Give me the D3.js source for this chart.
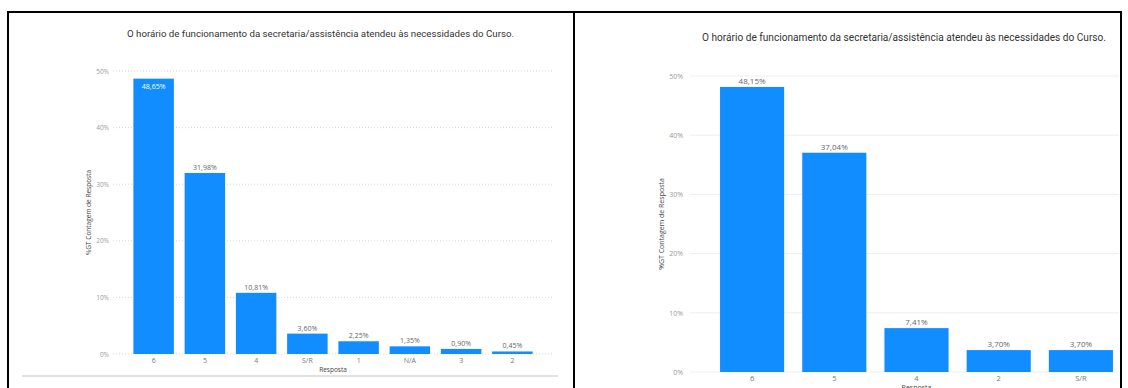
<!DOCTYPE html>
<html>
<head>
<meta charset="utf-8">
<script src="https://cdn.jsdelivr.net/npm/d3@7/dist/d3.min.js"></script>
<style>
  html, body { margin: 0; padding: 0; background: #fff; }
  svg { display: block; }
</style>
</head>
<body>
<svg id="chart" width="1128" height="388"></svg>
<script>
// Survey question shown in both panels
const chartTitle = "O horário de funcionamento da secretaria/assistência atendeu às necessidades do Curso.";
const yAxisTitle = "%GT Contagem de Resposta";
const xAxisTitle = "Resposta";

// Left panel: answer categories and share of responses (%)
const leftCategories = ["6", "5", "4", "S/R", "1", "N/A", "3", "2"];
const leftValues = [48.65, 31.98, 10.81, 3.60, 2.25, 1.35, 0.90, 0.45];

// Right panel: answer categories and share of responses (%)
const rightCategories = ["6", "5", "4", "2", "S/R"];
const rightValues = [48.15, 37.04, 7.41, 3.70, 3.70];

// Y-axis ticks (%)
const yTicks = [0, 10, 20, 30, 40, 50];

const ptBR = d3.formatLocale({ decimal: ",", thousands: ".", grouping: [3], currency: ["R$", ""] });
const fmtPct = v => ptBR.format(".2f")(v) + "%";
const fmtTick = v => v + "%";

const svg = d3.select("#chart");
const BAR = "#118DFF";

function drawPanel(cfg) {
  const g = svg.append("g");
  const x = d3.scaleBand().domain(cfg.categories).range(cfg.xRange)
    .paddingInner(cfg.padInner).paddingOuter(cfg.padInner / 2);
  const y = d3.scaleLinear().domain([0, 50]).range(cfg.yRange);

  // Title
  g.append("text")
    .attr("x", cfg.titleX).attr("y", cfg.titleY)
    .attr("text-anchor", "middle").attr("dominant-baseline", "middle")
    .attr("textLength", cfg.titleLen).attr("lengthAdjust", "spacingAndGlyphs")
    .style("font-family", "Roboto, 'DejaVu Sans', sans-serif")
    .style("font-size", cfg.titleSize + "px").style("fill", "#333")
    .text(chartTitle);

  // Gridlines
  g.append("g").selectAll("line").data(yTicks).join("line")
    .attr("x1", cfg.gridX[0]).attr("x2", cfg.gridX[1])
    .attr("y1", d => y(d)).attr("y2", d => y(d))
    .attr("stroke", cfg.gridColor).attr("stroke-width", 1)
    .attr("stroke-dasharray", cfg.gridDash);

  // Y-axis tick labels
  const yAxis = d3.axisLeft(y).tickValues(yTicks).tickFormat(fmtTick).tickSize(0).tickPadding(0);
  const ya = g.append("g").attr("transform", `translate(${cfg.tickX},0)`).call(yAxis);
  ya.select(".domain").remove();
  ya.selectAll("text")
    .style("font-family", "'Open Sans', sans-serif")
    .style("font-size", cfg.tickSize + "px").style("fill", "#9a9a9a");

  // Bars
  g.append("g").selectAll("rect").data(cfg.categories).join("rect")
    .attr("x", d => x(d)).attr("width", x.bandwidth())
    .attr("y", (d, i) => y(cfg.values[i]))
    .attr("height", (d, i) => y(0) - y(cfg.values[i]))
    .attr("fill", BAR);

  // Data labels
  g.append("g").selectAll("text").data(cfg.categories).join("text")
    .attr("x", d => x(d) + x.bandwidth() / 2)
    .attr("y", (d, i) => {
      const top = y(cfg.values[i]);
      return cfg.inside(i) ? top + cfg.labelSize + 3 : top - 3;
    })
    .attr("text-anchor", "middle")
    .style("font-family", "'Open Sans', sans-serif")
    .style("font-size", cfg.labelSize + "px")
    .style("fill", (d, i) => cfg.inside(i) ? "#fff" : "#666")
    .text((d, i) => fmtPct(cfg.values[i]));

  // X-axis category labels
  const xAxis = d3.axisBottom(x).tickSize(0).tickPadding(0);
  const xa = g.append("g").attr("transform", `translate(0,${cfg.catY})`).call(xAxis);
  xa.select(".domain").remove();
  xa.selectAll("text")
    .attr("dy", 0).attr("dominant-baseline", "middle")
    .style("font-family", "'Open Sans', sans-serif")
    .style("font-size", cfg.catSize + "px").style("fill", "#777");

  // Axis titles
  g.append("text")
    .attr("x", (cfg.xRange[0] + cfg.xRange[1]) / 2).attr("y", cfg.xTitleY)
    .attr("text-anchor", "middle").attr("dominant-baseline", "middle")
    .style("font-family", "'Open Sans', sans-serif")
    .style("font-size", cfg.axisTitleSize + "px").style("fill", "#444")
    .text(xAxisTitle);

  g.append("text")
    .attr("transform", `translate(${cfg.yTitleX},${(cfg.yRange[0] + cfg.yRange[1]) / 2}) rotate(-90)`)
    .attr("text-anchor", "middle").attr("dominant-baseline", "middle")
    .style("font-family", "'Open Sans', sans-serif")
    .style("font-size", cfg.axisTitleSize + "px").style("fill", "#444")
    .text(yAxisTitle);
}

drawPanel({
  categories: leftCategories, values: leftValues,
  xRange: [128, 538], padInner: 0.21, yRange: [354, 71],
  gridX: [113, 553], gridColor: "#d6d6d6", gridDash: "1,2",
  tickX: 109, tickSize: 6.5,
  labelSize: 7, inside: i => i === 0,
  catY: 361, catSize: 7,
  xTitleY: 370, yTitleX: 89, axisTitleSize: 6.5,
  titleX: 320.5, titleY: 34, titleLen: 387, titleSize: 9.5
});

drawPanel({
  categories: rightCategories, values: rightValues,
  xRange: [711, 1122], padInner: 0.22, yRange: [372, 76],
  gridX: [690, 1119], gridColor: "#eeeeee", gridDash: null,
  tickX: 683, tickSize: 7,
  labelSize: 8, inside: () => false,
  catY: 379, catSize: 7.5,
  xTitleY: 388, yTitleX: 662, axisTitleSize: 7,
  titleX: 904, titleY: 38.5, titleLen: 404, titleSize: 10
});

// Separator under the left chart
svg.append("line").attr("x1", 22).attr("x2", 558).attr("y1", 376).attr("y2", 376)
  .attr("stroke", "#e2e2e2").attr("stroke-width", 2);

// Panel frames
const frame = svg.append("g").attr("stroke", "#000").attr("stroke-width", 2).attr("fill", "none");
frame.append("line").attr("x1", 7).attr("x2", 1122).attr("y1", 12).attr("y2", 12);
frame.append("line").attr("x1", 8).attr("x2", 8).attr("y1", 11).attr("y2", 388);
frame.append("line").attr("x1", 574).attr("x2", 574).attr("y1", 11).attr("y2", 388);
frame.append("line").attr("x1", 1121).attr("x2", 1121).attr("y1", 11).attr("y2", 388);
</script>
</body>
</html>
